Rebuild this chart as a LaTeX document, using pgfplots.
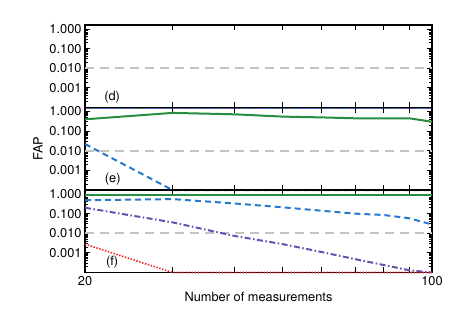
\documentclass[border=0pt]{standalone}
\usepackage{fontspec}
\setmainfont{TeX Gyre Heros}
\usepackage{pgfplots}
\pgfplotsset{compat=1.18}

\definecolor{fgreen}{RGB}{40,140,65}
\definecolor{fblue}{RGB}{40,120,205}
\definecolor{fpurple}{RGB}{105,80,175}
\definecolor{fred}{RGB}{230,30,30}
\definecolor{fgray}{RGB}{195,195,195}

\pgfplotsset{
  fappanel/.style={
    xmin=20, xmax=100, ymin=1e-4, ymax=1.6,
    scale only axis, width=347bp, height=82.5bp,
    anchor=north west,
    xtick={20,30,40,50,60,70,80,90,100},
    ytick={1,0.1,0.01,0.001},
    yticklabels={1.000,0.100,0.010,0.001},
    minor ytick={2e-4,3e-4,4e-4,5e-4,6e-4,7e-4,8e-4,9e-4,
                 2e-3,3e-3,4e-3,5e-3,6e-3,7e-3,8e-3,9e-3,
                 2e-2,3e-2,4e-2,5e-2,6e-2,7e-2,8e-2,9e-2,
                 0.2,0.3,0.4,0.5,0.6,0.7,0.8,0.9},
    axis line style={line width=1.3bp},
    major tick length=5.5bp, minor tick length=3bp,
    every tick/.style={black, line width=0.9bp},
    tick label style={font=\fontsize{12.8bp}{15bp}\selectfont},
    label style={font=\fontsize{12.8bp}{15bp}\selectfont},
    clip=false,
  },
  fgreenl/.style={fgreen, line width=2bp},
  fbluel/.style={fblue, line width=2bp, dash pattern=on 6bp off 4bp},
  fpurplel/.style={fpurple, line width=2bp, dash pattern=on 6bp off 2.5bp on 1.5bp off 2.5bp},
  fredl/.style={fred, line width=1.6bp, dash pattern=on 1.4bp off 1.6bp},
  fgrayl/.style={fgray, line width=1.9bp, dash pattern=on 9bp off 6bp},
}

\begin{document}
\begin{tikzpicture}
\path[use as bounding box] (0,0) rectangle (458bp,-327bp);

% (d)
\begin{loglogaxis}[fappanel, at={(85bp,-25bp)}, xticklabels={}]
\addplot[fgrayl] coordinates {(20,0.01) (100,0.01)};
\addplot[fgreenl] coordinates {(20,1e-4) (100,1e-4)};
\addplot[fbluel] coordinates {(20,1e-4) (100,1e-4)};
\addplot[fpurplel] coordinates {(20,1e-4) (100,1e-4)};
\addplot[fredl] coordinates {(20,1e-4) (100,1e-4)};
\node[font=\fontsize{12.8bp}{15bp}\selectfont] at (rel axis cs:0.078,0.13) {(d)};
\end{loglogaxis}

% (e)
\begin{loglogaxis}[fappanel, at={(85bp,-107.5bp)}, xticklabels={}, ylabel={FAP}]
\addplot[fgrayl] coordinates {(20,0.01) (100,0.01)};
\addplot[fgreenl] coordinates {(20,0.4) (30,0.85) (40,0.72) (50,0.55) (60,0.5) (70,0.45) (80,0.45) (90,0.45) (100,0.3)};
\addplot[fbluel] coordinates {(20,0.022) (30,1e-4) (100,1e-4)};
\addplot[fpurplel] coordinates {(20,1e-4) (100,1e-4)};
\addplot[fredl] coordinates {(20,1e-4) (100,1e-4)};
\node[font=\fontsize{12.8bp}{15bp}\selectfont] at (rel axis cs:0.08,0.13) {(e)};
\end{loglogaxis}

% (f)
\begin{loglogaxis}[fappanel, at={(85bp,-190bp)},
  xticklabels={20,,,,,,,,100},
  xlabel={Number of measurements}]
\addplot[fgrayl] coordinates {(20,0.01) (100,0.01)};
\addplot[fgreenl] coordinates {(20,0.93) (100,0.93)};
\addplot[fbluel] coordinates {(20,0.48) (30,0.55) (40,0.33) (50,0.21) (60,0.14) (70,0.10) (80,0.085) (90,0.058) (100,0.028)};
\addplot[fpurplel] coordinates {(20,0.2) (30,0.036) (40,0.0073) (50,0.0028) (60,0.0011) (70,0.00048) (80,0.00024) (90,0.00013) (100,1e-4)};
\addplot[fredl] coordinates {(20,0.0028) (30,1e-4) (100,1e-4)};
\node[font=\fontsize{12.8bp}{15bp}\selectfont] at (rel axis cs:0.078,0.12) {(f)};
\end{loglogaxis}
\end{tikzpicture}
\end{document}
